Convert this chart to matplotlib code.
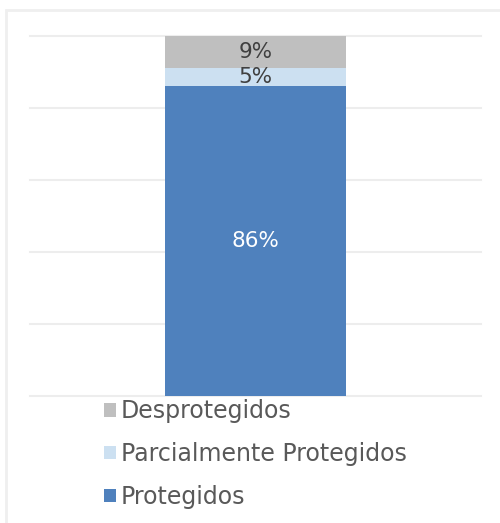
import matplotlib.pyplot as plt
from matplotlib.patches import Patch, Rectangle

categorias = ["Protegidos", "Parcialmente Protegidos", "Desprotegidos"]
valores = [86, 5, 9]
etiquetas = ["86%", "5%", "9%"]
colores = ["#4F81BD", "#CCE0F1", "#BFBFBF"]
color_texto = ["white", "#404040", "#404040"]

plt.rcParams['font.family'] = ['DejaVu Sans']

fig = plt.figure(figsize=(5, 5.23), dpi=100)
ax = fig.add_axes([0.06, 0.2428, 0.902, 0.6884])

base = 0
for v, c, lab, tc in zip(valores, colores, etiquetas, color_texto):
    ax.bar(0, v, bottom=base, width=0.401, color=c, zorder=2)
    ax.text(0, base + v / 2, lab, ha='center', va='center', color=tc, fontsize=15.5)
    base += v

ax.set_xlim(-0.5, 0.5)
ax.set_ylim(0, 100)
ax.set_yticks(range(0, 101, 20))
ax.yaxis.grid(True, color='#EDEDED', linewidth=1.5, zorder=0)
for gl in ax.get_ygridlines():
    gl.set_clip_on(False)
ax.set_xticks([])
ax.tick_params(left=False, labelleft=False)
for s in ax.spines.values():
    s.set_visible(False)

# marco del gráfico
fig.patches.append(Rectangle((6 / 500, -0.05), 1.2, 1 - 10 / 523 + 0.05, transform=fig.transFigure,
                             fill=False, edgecolor='#EFEFEF', linewidth=2))

handles = [Patch(facecolor=c, edgecolor='none') for c in colores][::-1]
fig.legend(handles, categorias[::-1], loc='upper left', bbox_to_anchor=(104 / 500, 1 - 399 / 523),
           frameon=False, fontsize=17, labelcolor='#595959', handlelength=0.52, handleheight=0.52,
           handletextpad=0.2, labelspacing=0.8, borderpad=0, borderaxespad=0)

fig.savefig("out.png", dpi=100)
